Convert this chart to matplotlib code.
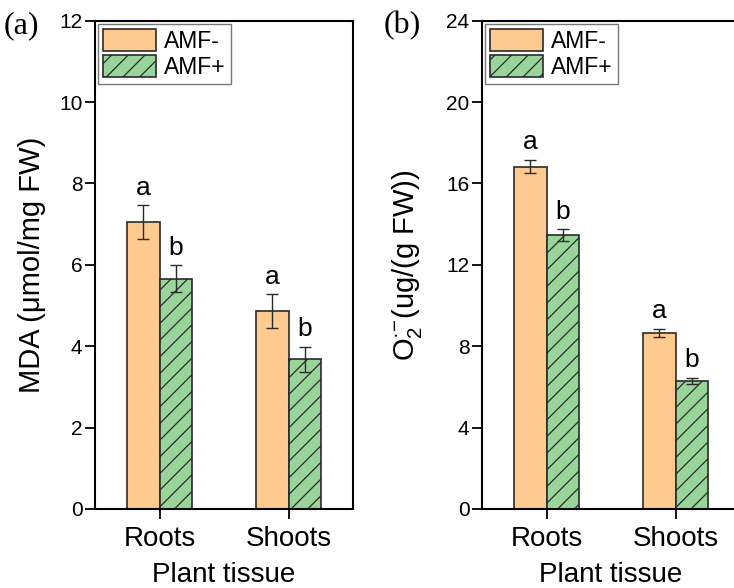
import numpy as np
import matplotlib
matplotlib.use("Agg")
from matplotlib import pyplot as plt

tissues = ["Roots", "Shoots"]
groups = ["AMF-", "AMF+"]

mda_minus = [7.05, 4.86]
mda_minus_err = [0.41, 0.42]
mda_plus = [5.66, 3.68]
mda_plus_err = [0.33, 0.31]

o2_minus = [16.83, 8.67]
o2_minus_err = [0.33, 0.2]
o2_plus = [13.45, 6.30]
o2_plus_err = [0.29, 0.14]

letters_minus = ["a", "a"]
letters_plus = ["b", "b"]

plt.rcParams["font.family"] = ["Liberation Sans", "DejaVu Sans"]
plt.rcParams["mathtext.default"] = "regular"
plt.rcParams["hatch.linewidth"] = 0.9
plt.rcParams["hatch.color"] = "#222222"

orange = "#FFCA8F"
green = "#99D59A"
edge = "#2a2a2a"

fig = plt.figure(figsize=(7.34, 5.88), dpi=100)
W = 258 / 734
ax1 = fig.add_axes([95 / 734, 1 - 509 / 588, W, (509 - 20.7) / 588])
ax2 = fig.add_axes([482 / 734, 1 - 509 / 588, W, (509 - 20.7) / 588])

x = np.arange(len(tissues))
bw = 0.25


def panel(ax, minus, minus_err, plus, plus_err, ymax, step, ylabel, lab_x):
    ax.bar(x - bw / 2, minus, bw, color=orange, edgecolor=edge, linewidth=1.2,
           label=groups[0], zorder=2)
    ax.bar(x + bw / 2, plus, bw, color=green, edgecolor=edge, linewidth=1.2,
           hatch="//", label=groups[1], zorder=2)
    ax.errorbar(x - bw / 2, minus, yerr=minus_err, fmt="none", ecolor=edge,
                elinewidth=1.0, capsize=4.5, capthick=1.0, zorder=3)
    ax.errorbar(x + bw / 2, plus, yerr=plus_err, fmt="none", ecolor=edge,
                elinewidth=1.0, capsize=4.5, capthick=1.0, zorder=3)
    for i in range(len(x)):
        ax.annotate(letters_minus[i], (x[i] - bw / 2, minus[i] + minus_err[i]),
                    xytext=(0, 4), textcoords="offset points",
                    ha="center", va="bottom", fontsize=19)
        ax.annotate(letters_plus[i], (x[i] + bw / 2, plus[i] + plus_err[i]),
                    xytext=(0, 4), textcoords="offset points",
                    ha="center", va="bottom", fontsize=19)
    ax.set_xlim(-0.5, 1.5)
    ax.set_ylim(0, ymax)
    ax.set_yticks(np.arange(0, ymax + 0.1, step))
    ax.set_xticks(x)
    ax.set_xticklabels(tissues)
    ax.tick_params(axis="x", direction="out", length=7, width=1.3,
                   labelsize=20, pad=5.5)
    ax.tick_params(axis="y", direction="out", length=7, width=1.3,
                   labelsize=15, pad=2)
    for s in ax.spines.values():
        s.set_linewidth(1.5)
    ax.set_xlabel("Plant tissue", fontsize=20, labelpad=7)
    ax.set_ylabel(ylabel, fontsize=21)
    ax.yaxis.set_label_coords(lab_x, 0.5)
    ax.legend(loc="upper left", fontsize=16.5, frameon=True, fancybox=False,
              edgecolor="#777777", framealpha=1, borderaxespad=0.15,
              borderpad=0.22, handlelength=2.3, handleheight=1.1,
              handletextpad=0.35, labelspacing=0.09)


panel(ax1, mda_minus, mda_minus_err, mda_plus, mda_plus_err, 12, 2,
      "MDA (μmol/mg FW)", -0.19)
panel(ax2, o2_minus, o2_minus_err, o2_plus, o2_plus_err, 24, 4,
      r"O$_2^{·{-}}$(ug/(g FW))", -0.225)

fig.text(4 / 734, 1 - 33 / 588, "(a)", fontsize=23, family="Liberation Serif",
         va="baseline")
fig.text(384 / 734, 1 - 33 / 588, "(b)", fontsize=23, family="Liberation Serif",
         va="baseline")

fig.savefig("out.png", dpi=100)
